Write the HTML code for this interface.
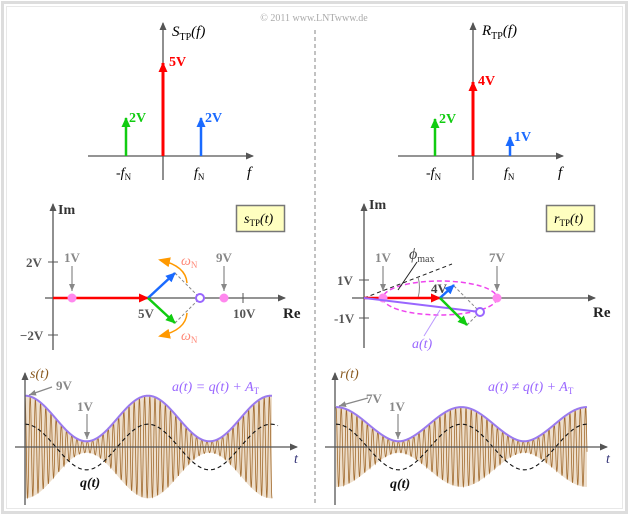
<!DOCTYPE html>
<html><head><meta charset="utf-8"><style>
html,body{margin:0;padding:0;background:#fff}
svg{display:block}
text{font-family:"Liberation Serif",serif}
.b{font-weight:bold}
</style></head><body>
<svg id="s" width="630" height="517" viewBox="0 0 630 517" xmlns="http://www.w3.org/2000/svg">
<defs>
<marker id="ag" markerWidth="8" markerHeight="8" refX="7" refY="4" orient="auto" markerUnits="userSpaceOnUse"><path d="M0,0.5 L8,4 L0,7.5z" fill="#555"/></marker>
<marker id="agr" markerWidth="8" markerHeight="8" refX="7" refY="4" orient="auto" markerUnits="userSpaceOnUse"><path d="M0,1 L7,4 L0,7z" fill="#888"/></marker>
<marker id="ar" markerWidth="10" markerHeight="10" refX="9" refY="5" orient="auto" markerUnits="userSpaceOnUse"><path d="M0,0.5 L10,5 L0,9.5z" fill="#f00"/></marker>
<marker id="agn" markerWidth="10" markerHeight="10" refX="9" refY="5" orient="auto" markerUnits="userSpaceOnUse"><path d="M0,0.5 L10,5 L0,9.5z" fill="#1c1"/></marker>
<marker id="abl" markerWidth="10" markerHeight="10" refX="9" refY="5" orient="auto" markerUnits="userSpaceOnUse"><path d="M0,0.5 L10,5 L0,9.5z" fill="#1a6aff"/></marker>
<marker id="aor" markerWidth="12" markerHeight="12" refX="10" refY="6" orient="auto" markerUnits="userSpaceOnUse"><path d="M0,1 L12,6 L0,11z" fill="#f90"/></marker>
</defs>
<rect x="2.5" y="2.5" width="624" height="510" fill="none" stroke="#ddd" stroke-width="3"/>
<rect x="6.5" y="6.5" width="616" height="502" fill="none" stroke="#e8e8e8" stroke-width="1"/>
<line x1="315" y1="30" x2="315" y2="506" stroke="#999" stroke-width="1.2" stroke-dasharray="4,3"/>
<text x="314" y="21" font-size="10" fill="#aaa" text-anchor="middle">© 2011 www.LNTwww.de</text>

<line x1="88" y1="156" x2="253" y2="156" stroke="#555" stroke-width="1.3" marker-end="url(#ag)"/>
<line x1="163" y1="180" x2="163" y2="23" stroke="#555" stroke-width="1.3" marker-end="url(#ag)"/>
<line x1="163" y1="156" x2="163" y2="63" stroke="#f00" stroke-width="3" marker-end="url(#ar)"/>
<line x1="126" y1="156" x2="126" y2="118" stroke="#1c1" stroke-width="2.5" marker-end="url(#agn)"/>
<line x1="201" y1="156" x2="201" y2="118" stroke="#1a6aff" stroke-width="2.5" marker-end="url(#abl)"/>
<text x="169" y="66" font-size="14" class="b" fill="#f00">5V</text>
<text x="129" y="122" font-size="14" class="b" fill="#1c1">2V</text>
<text x="205" y="122" font-size="14" class="b" fill="#1a6aff">2V</text>
<text x="172" y="36" font-size="15" font-style="italic">S<tspan font-size="10" font-style="normal" dy="4">TP</tspan><tspan dy="-4">(f)</tspan></text>
<text x="116" y="177" font-size="14" font-style="italic">-f<tspan font-size="9" font-style="normal" dy="3">N</tspan></text>
<text x="194" y="177" font-size="14" font-style="italic">f<tspan font-size="9" font-style="normal" dy="3">N</tspan></text>
<text x="247" y="177" font-size="15" font-style="italic">f</text>

<line x1="398" y1="156" x2="563" y2="156" stroke="#555" stroke-width="1.3" marker-end="url(#ag)"/>
<line x1="473" y1="180" x2="473" y2="23" stroke="#555" stroke-width="1.3" marker-end="url(#ag)"/>
<line x1="473" y1="156" x2="473" y2="82" stroke="#f00" stroke-width="3" marker-end="url(#ar)"/>
<line x1="435" y1="156" x2="435" y2="119" stroke="#1c1" stroke-width="2.5" marker-end="url(#agn)"/>
<line x1="510" y1="156" x2="510" y2="137" stroke="#1a6aff" stroke-width="2.5" marker-end="url(#abl)"/>
<text x="478" y="85" font-size="14" class="b" fill="#f00">4V</text>
<text x="439" y="123" font-size="14" class="b" fill="#1c1">2V</text>
<text x="514" y="141" font-size="14" class="b" fill="#1a6aff">1V</text>
<text x="482" y="35" font-size="15" font-style="italic">R<tspan font-size="10" font-style="normal" dy="4">TP</tspan><tspan dy="-4">(f)</tspan></text>
<text x="426" y="177" font-size="14" font-style="italic">-f<tspan font-size="9" font-style="normal" dy="3">N</tspan></text>
<text x="504" y="177" font-size="14" font-style="italic">f<tspan font-size="9" font-style="normal" dy="3">N</tspan></text>
<text x="558" y="177" font-size="15" font-style="italic">f</text>

<line x1="45" y1="298" x2="285" y2="298" stroke="#555" stroke-width="1.3" marker-end="url(#ag)"/>
<line x1="53" y1="350" x2="53" y2="204" stroke="#555" stroke-width="1.3" marker-end="url(#ag)"/>
<line x1="48" y1="262" x2="58" y2="262" stroke="#555"/><line x1="48" y1="335" x2="58" y2="335" stroke="#555"/>
<line x1="243" y1="293" x2="243" y2="303" stroke="#555"/>
<text x="58" y="214" font-size="14" class="b" fill="#333">Im</text>
<text x="26" y="267" font-size="13" class="b" fill="#555">2V</text>
<text x="20" y="340" font-size="13" class="b" fill="#555">−2V</text>
<text x="138" y="318" font-size="13" class="b" fill="#555">5V</text>
<text x="233" y="318" font-size="13" class="b" fill="#555">10V</text>
<text x="283" y="318" font-size="15" class="b" fill="#222">Re</text>
<line x1="53" y1="298" x2="148" y2="298" stroke="#f00" stroke-width="2.5" marker-end="url(#ar)"/>
<circle cx="72" cy="298" r="4.5" fill="#f8e"/><circle cx="224" cy="298" r="4.5" fill="#f8e"/>
<line x1="175" y1="273" x2="200" y2="298" stroke="#888" stroke-dasharray="3,2"/>
<line x1="175" y1="323" x2="200" y2="298" stroke="#888" stroke-dasharray="3,2"/>
<line x1="148" y1="298" x2="175" y2="273" stroke="#1a6aff" stroke-width="2.5" marker-end="url(#abl)"/>
<line x1="148" y1="298" x2="175" y2="323" stroke="#1c1" stroke-width="2.5" marker-end="url(#agn)"/>
<circle cx="200" cy="298" r="4" fill="#fff" stroke="#96f" stroke-width="2"/>
<path d="M187,283 Q186,266 160,260" fill="none" stroke="#f90" stroke-width="1.5" marker-end="url(#aor)"/>
<path d="M187,313 Q186,330 160,336" fill="none" stroke="#f90" stroke-width="1.5" marker-end="url(#aor)"/>
<text x="181" y="265" font-size="14" font-style="italic" fill="#f87">ω<tspan font-size="9" font-style="normal" dy="3">N</tspan></text>
<text x="181" y="340" font-size="14" font-style="italic" fill="#f87">ω<tspan font-size="9" font-style="normal" dy="3">N</tspan></text>
<text x="64" y="262" font-size="13" class="b" fill="#888">1V</text>
<line x1="72" y1="266" x2="72" y2="291" stroke="#888" stroke-width="1.2" marker-end="url(#agr)"/>
<text x="216" y="262" font-size="13" class="b" fill="#888">9V</text>
<line x1="224" y1="266" x2="224" y2="291" stroke="#888" stroke-width="1.2" marker-end="url(#agr)"/>
<rect x="236.5" y="205.5" width="48" height="26" fill="#ffffc0" stroke="#777" stroke-width="1.5"/>
<text x="244" y="223" font-size="14" font-style="italic">s<tspan font-size="9" font-style="normal" dy="3">TP</tspan><tspan dy="-3">(t)</tspan></text>

<line x1="352" y1="298" x2="595" y2="298" stroke="#555" stroke-width="1.3" marker-end="url(#ag)"/>
<line x1="364" y1="348" x2="364" y2="204" stroke="#555" stroke-width="1.3" marker-end="url(#ag)"/>
<line x1="359" y1="280" x2="369" y2="280" stroke="#555"/><line x1="359" y1="318" x2="369" y2="318" stroke="#555"/>
<text x="369" y="209" font-size="14" class="b" fill="#333">Im</text>
<text x="337" y="285" font-size="13" class="b" fill="#555">1V</text>
<text x="334" y="323" font-size="13" class="b" fill="#555">-1V</text>
<text x="593" y="317" font-size="15" class="b" fill="#222">Re</text>
<ellipse cx="440" cy="298" rx="57" ry="17" fill="none" stroke="#e4e" stroke-width="1.5" stroke-dasharray="5,3"/>
<line x1="364" y1="298" x2="452" y2="264" stroke="#222" stroke-dasharray="4,3"/>
<path d="M418,277 Q421,287 418,298" fill="none" stroke="#888"/>
<line x1="364" y1="298" x2="440" y2="298" stroke="#f00" stroke-width="2.5" marker-end="url(#ar)"/>
<circle cx="383" cy="298" r="4.5" fill="#f8e"/><circle cx="497" cy="298" r="4.5" fill="#f8e"/>
<line x1="364" y1="298" x2="480" y2="312" stroke="#96f" stroke-width="2"/>
<line x1="454" y1="286" x2="480" y2="312" stroke="#888" stroke-dasharray="3,2"/>
<line x1="467" y1="325" x2="480" y2="312" stroke="#888" stroke-dasharray="3,2"/>
<line x1="440" y1="298" x2="454" y2="285" stroke="#1a6aff" stroke-width="2.5" marker-end="url(#abl)"/>
<line x1="440" y1="298" x2="467" y2="325" stroke="#1c1" stroke-width="2.5" marker-end="url(#agn)"/>
<circle cx="480" cy="312" r="4" fill="#fff" stroke="#96f" stroke-width="2"/>
<text x="431" y="293" font-size="13" class="b" fill="#444">4V</text>
<text x="375" y="262" font-size="13" class="b" fill="#888">1V</text>
<line x1="383" y1="266" x2="383" y2="291" stroke="#888" stroke-width="1.2" marker-end="url(#agr)"/>
<text x="489" y="262" font-size="13" class="b" fill="#888">7V</text>
<line x1="497" y1="266" x2="497" y2="291" stroke="#888" stroke-width="1.2" marker-end="url(#agr)"/>
<text x="409" y="259" font-size="16" font-style="italic" fill="#444">ϕ<tspan font-size="10" font-style="normal" dy="3">max</tspan></text>
<line x1="417" y1="262" x2="398" y2="290" stroke="#222"/>
<line x1="424" y1="336" x2="440" y2="310" stroke="#b9f"/>
<text x="412" y="348" font-size="14" font-style="italic" fill="#96f">a(t)</text>
<rect x="546.5" y="205.5" width="48" height="26" fill="#ffffc0" stroke="#777" stroke-width="1.5"/>
<text x="554" y="223" font-size="14" font-style="italic">r<tspan font-size="9" font-style="normal" dy="3">TP</tspan><tspan dy="-3">(t)</tspan></text>

<g id="wl"></g><g id="wr"></g>
<line x1="25" y1="505" x2="25" y2="373" stroke="#555" stroke-width="1.3" marker-end="url(#ag)"/>
<line x1="15" y1="447" x2="297" y2="447" stroke="#555" stroke-width="1.3" marker-end="url(#ag)"/>
<line x1="335" y1="505" x2="335" y2="373" stroke="#555" stroke-width="1.3" marker-end="url(#ag)"/>
<line x1="325" y1="447" x2="607" y2="447" stroke="#555" stroke-width="1.3" marker-end="url(#ag)"/>
<text x="30" y="378" font-size="14" font-style="italic" fill="#8a5a20">s(t)</text>
<text x="340" y="378" font-size="14" font-style="italic" fill="#8a5a20">r(t)</text>
<text x="294" y="463" font-size="14" font-style="italic" fill="#337">t</text>
<text x="606" y="463" font-size="14" font-style="italic" fill="#337">t</text>
<text x="56" y="390" font-size="13" class="b" fill="#888">9V</text>
<line x1="52" y1="387" x2="29" y2="395" stroke="#888" stroke-width="1.2" marker-end="url(#agr)"/>
<text x="77" y="411" font-size="13" class="b" fill="#888">1V</text>
<line x1="87" y1="414" x2="87" y2="439" stroke="#888" stroke-width="1.2" marker-end="url(#agr)"/>
<text x="366" y="403" font-size="13" class="b" fill="#888">7V</text>
<line x1="368" y1="398" x2="339" y2="406" stroke="#888" stroke-width="1.2" marker-end="url(#agr)"/>
<text x="389" y="411" font-size="13" class="b" fill="#888">1V</text>
<line x1="398" y1="414" x2="398" y2="439" stroke="#888" stroke-width="1.2" marker-end="url(#agr)"/>
<text x="172" y="391" font-size="14" font-style="italic" fill="#96f">a(t)  = q(t) + A<tspan font-size="9" font-style="normal" dy="3">T</tspan></text>
<text x="488" y="391" font-size="14" font-style="italic" fill="#96f">a(t) ≠ q(t) + A<tspan font-size="9" font-style="normal" dy="3">T</tspan></text>
<text x="80" y="487" font-size="14" font-style="italic" class="b" fill="#111">q(t)</text>
<text x="390" y="488" font-size="14" font-style="italic" class="b" fill="#111">q(t)</text>
</svg>
<script>
(function(){
var NS="http://www.w3.org/2000/svg";
function mk(g,d,a){var p=document.createElementNS(NS,"path");p.setAttribute("d",d);for(var k in a)p.setAttribute(k,a[k]);g.appendChild(p);}
function draw(id,x0,x1,y0,k,per,env,sig,qx1){
 var g=document.getElementById(id),up="",lo="",s="",q="";
 for(var x=x0;x<=x1;x+=0.25){var a=env(x-x0);up+=(x==x0?"M":"L")+x+","+(y0-a*k);lo="L"+x+","+(y0+a*k)+lo;
  s+=(x==x0?"M":"L")+x+","+(y0-sig(x-x0)*k);}
 for(var x=x0;x<=qx1;x+=0.5){q+=(x==x0?"M":"L")+x+","+(y0-4*Math.cos(2*Math.PI*(x-x0)/per)*k);}
 mk(g,up+lo+"Z",{fill:"#eedfcc"});
 mk(g,s,{fill:"none",stroke:"#a26c30","stroke-width":"0.8"});
 mk(g,q,{fill:"none",stroke:"#111","stroke-width":"1.1","stroke-dasharray":"4,3"});
 mk(g,up,{fill:"none",stroke:"#9a7aee","stroke-width":"2"});
}
var per=123,c=5.2,k=5.7;
draw("wl",25,272,447,k,per,function(t){return 5+4*Math.cos(2*Math.PI*t/per);},
 function(t){return (5+4*Math.cos(2*Math.PI*t/per))*Math.cos(2*Math.PI*t/c);},278);
var per2=125.5;
function rr(t){var w=2*Math.PI*t/per2;return [4+3*Math.cos(w),-Math.sin(w)];}
draw("wr",336,587,447,k,per2,function(t){var v=rr(t);return Math.sqrt(v[0]*v[0]+v[1]*v[1]);},
 function(t){var v=rr(t),wc=2*Math.PI*t/c;return v[0]*Math.cos(wc)-v[1]*Math.sin(wc);},587);
})();
</script>
</body></html>
